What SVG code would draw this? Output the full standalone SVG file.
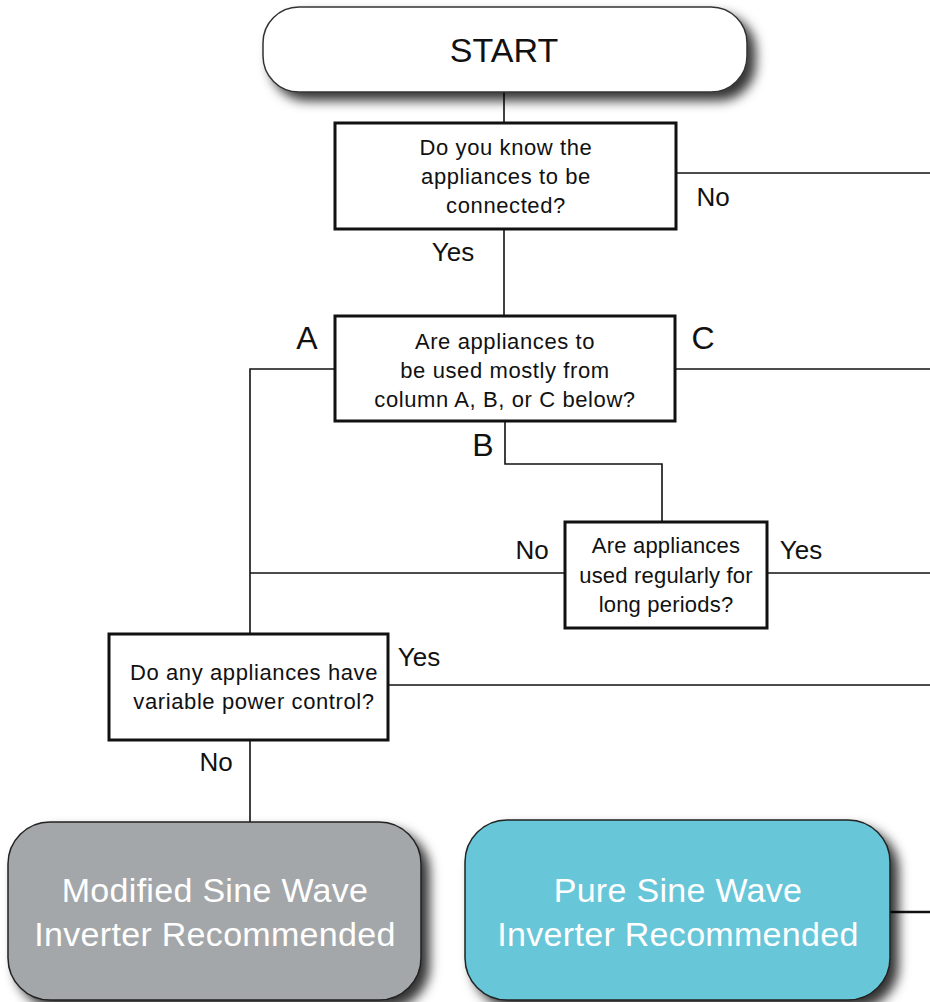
<svg xmlns="http://www.w3.org/2000/svg" width="930" height="1002" viewBox="0 0 930 1002">
<style>
.q{fill:#fff;stroke:#111;stroke-width:3}
.qt{font-family:"Liberation Sans",Arial,sans-serif;font-size:22px;letter-spacing:0.6px;fill:#111;text-anchor:middle}
.lb{font-family:"Liberation Sans",Arial,sans-serif;font-size:26px;fill:#111;text-anchor:middle}
.big{font-family:"Liberation Sans",Arial,sans-serif;font-size:32px;fill:#111;text-anchor:middle}
.rt{font-family:"Liberation Sans",Arial,sans-serif;font-size:34px;fill:#fff;text-anchor:middle;letter-spacing:0.3px}
.c{fill:none;stroke:#111;stroke-width:1.6}
</style>
<defs>
<filter id="sh" x="-10%" y="-20%" width="130%" height="160%">
<feDropShadow dx="8" dy="8" stdDeviation="6" flood-color="#000" flood-opacity="0.8"/>
</filter>
</defs>
<rect width="930" height="1002" fill="#fff"/>
<g id="connectors">
<path class="c" d="M504 92V123"/>
<path class="c" d="M676 173H930"/>
<path class="c" d="M504 229V316"/>
<path class="c" d="M335 369H250V634"/>
<path class="c" d="M675 369H930"/>
<path class="c" d="M505 421V464H662V522"/>
<path class="c" d="M250 573H565"/>
<path class="c" d="M767 573H930"/>
<path class="c" d="M388 685H930"/>
<path class="c" d="M250 740V822"/>
<path class="c" d="M890 912H930" style="stroke-width:2.5"/>
</g>
<g id="start">
<rect x="263" y="7" width="484" height="85" rx="36" fill="#fff" stroke="#333" stroke-width="1.5" filter="url(#sh)"/>
<text x="504" y="62" font-family="Liberation Sans, Arial, sans-serif" font-size="34" fill="#111" text-anchor="middle">START</text>
</g>
<g id="q1">
<rect class="q" x="335" y="123" width="341" height="106"/>
<text class="qt" x="506" y="155">Do you know the</text>
<text class="qt" x="506" y="184">appliances to be</text>
<text class="qt" x="506" y="213">connected?</text>
</g>
<g id="q2">
<rect class="q" x="335" y="316" width="340" height="105"/>
<text class="qt" x="505" y="349">Are appliances to</text>
<text class="qt" x="505" y="378">be used mostly from</text>
<text class="qt" x="505" y="407">column A, B, or C below?</text>
</g>
<g id="q3">
<rect class="q" x="565" y="522" width="202" height="106"/>
<text class="qt" x="666" y="553" style="letter-spacing:0.2px">Are appliances</text>
<text class="qt" x="666" y="583" style="letter-spacing:0.2px">used regularly for</text>
<text class="qt" x="666" y="612" style="letter-spacing:0.2px">long periods?</text>
</g>
<g id="q4">
<rect class="q" x="109" y="634" width="279" height="106"/>
<text class="qt" x="254" y="680">Do any appliances have</text>
<text class="qt" x="254" y="709">variable power control?</text>
</g>
<g id="labels">
<text class="lb" x="713" y="206">No</text>
<text class="lb" x="453" y="261">Yes</text>
<text class="big" x="307" y="349">A</text>
<text class="big" x="703" y="349">C</text>
<text class="big" x="483" y="456">B</text>
<text class="lb" x="532" y="559">No</text>
<text class="lb" x="801" y="559">Yes</text>
<text class="lb" x="419" y="666">Yes</text>
<text class="lb" x="216" y="771">No</text>
</g>
<g id="modified">
<rect x="8" y="822" width="413" height="178" rx="42" fill="#a4a7a9" stroke="#222" stroke-width="1.5" filter="url(#sh)"/>
<text class="rt" x="215" y="902">Modified Sine Wave</text>
<text class="rt" x="215" y="946">Inverter Recommended</text>
</g>
<g id="pure">
<rect x="465" y="820" width="425" height="180" rx="42" fill="#68c6d9" stroke="#222" stroke-width="1.5" filter="url(#sh)"/>
<text class="rt" x="678" y="902">Pure Sine Wave</text>
<text class="rt" x="678" y="946">Inverter Recommended</text>
</g>
</svg>
